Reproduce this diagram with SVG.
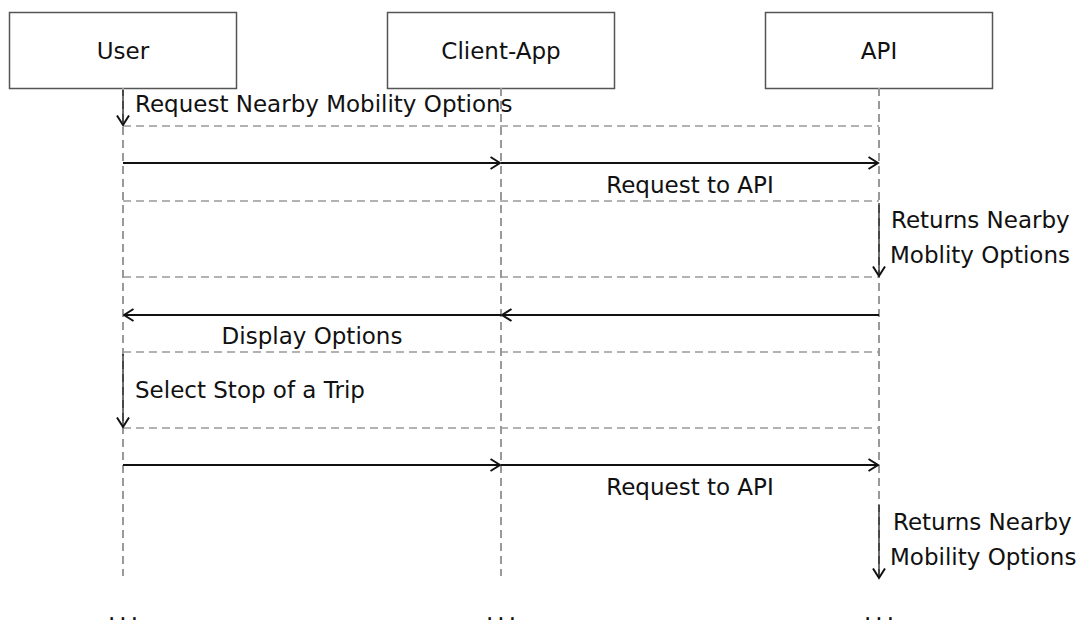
<svg xmlns="http://www.w3.org/2000/svg" width="1088" height="623" viewBox="0 0 1088 623">
  <style>
    text { font-family: "DejaVu Sans", "Liberation Sans", sans-serif; font-size: 23px; fill: #111; }
    .box { fill: #fff; stroke: #555; stroke-width: 1.5; }
    .life { stroke: #999; stroke-width: 2; stroke-dasharray: 8 5; fill: none; }
    .sep { stroke: #999; stroke-width: 1.5; stroke-dasharray: 8 5; fill: none; }
    .msg { stroke: #111; stroke-width: 2; fill: none; marker-end: url(#head); }
    .self { stroke: #111; stroke-opacity: 0.6; stroke-width: 2; fill: none; marker-end: url(#head); }
    .dots { letter-spacing: 4px; }
  </style>
  <defs>
    <marker id="head" viewBox="0 0 12 14" refX="10.5" refY="7" markerWidth="12" markerHeight="14" markerUnits="userSpaceOnUse" orient="auto">
      <path d="M1,1 L10.5,7 L1,13" fill="none" stroke="#111" stroke-width="2"/>
    </marker>
  </defs>
  <rect width="1088" height="623" fill="#fff"/>

  <!-- participants -->
  <g id="user">
    <rect class="box" x="9.5" y="12.5" width="227" height="76"/>
    <text x="123" y="51" text-anchor="middle" dominant-baseline="central">User</text>
  </g>
  <g id="client-app">
    <rect class="box" x="387.5" y="12.5" width="227" height="76"/>
    <text x="501" y="51" text-anchor="middle" dominant-baseline="central">Client-App</text>
  </g>
  <g id="api">
    <rect class="box" x="765.5" y="12.5" width="227" height="76"/>
    <text x="879" y="51" text-anchor="middle" dominant-baseline="central">API</text>
  </g>

  <!-- lifelines -->
  <g id="lifelines">
    <line class="life" x1="123" y1="88" x2="123" y2="576"/>
    <line class="life" x1="501" y1="88" x2="501" y2="576"/>
    <line class="life" x1="879" y1="88" x2="879" y2="576"/>
  </g>

  <!-- step separators -->
  <g id="separators">
    <line class="sep" x1="123" y1="126" x2="879" y2="126"/>
    <line class="sep" x1="123" y1="201" x2="879" y2="201"/>
    <line class="sep" x1="123" y1="277" x2="879" y2="277"/>
    <line class="sep" x1="123" y1="352" x2="879" y2="352"/>
    <line class="sep" x1="123" y1="428" x2="879" y2="428"/>
  </g>

  <!-- messages -->
  <g id="connectors">
    <line class="self" x1="123" y1="90" x2="123" y2="125"/>
    <line class="msg" x1="123" y1="163" x2="500" y2="163"/>
    <line class="msg" x1="501" y1="163" x2="878" y2="163"/>
    <line class="self" x1="879" y1="203" x2="879" y2="276"/>
    <line class="msg" x1="879" y1="315" x2="502" y2="315"/>
    <line class="msg" x1="501" y1="315" x2="124" y2="315"/>
    <line class="self" x1="123" y1="354" x2="123" y2="427"/>
    <line class="msg" x1="123" y1="465" x2="500" y2="465"/>
    <line class="msg" x1="501" y1="465" x2="878" y2="465"/>
    <line class="self" x1="879" y1="505" x2="879" y2="578"/>
  </g>

  <!-- message labels -->
  <g id="labels">
    <text x="135" y="104" dominant-baseline="central">Request Nearby Mobility Options</text>
    <text x="690" y="185" text-anchor="middle" dominant-baseline="central">Request to API</text>
    <text x="891" y="220" dominant-baseline="central">Returns Nearby</text>
    <text x="890" y="255" dominant-baseline="central">Moblity Options</text>
    <text x="312" y="336" text-anchor="middle" dominant-baseline="central">Display Options</text>
    <text x="135" y="390" dominant-baseline="central">Select Stop of a Trip</text>
    <text x="690" y="487" text-anchor="middle" dominant-baseline="central">Request to API</text>
    <text x="893" y="522" dominant-baseline="central">Returns Nearby</text>
    <text x="890" y="557" dominant-baseline="central">Mobility Options</text>
  </g>

  <!-- continuation marks -->
  <g id="continuation">
    <text class="dots" x="125" y="620" text-anchor="middle">...</text>
    <text class="dots" x="503" y="620" text-anchor="middle">...</text>
    <text class="dots" x="881" y="620" text-anchor="middle">...</text>
  </g>
</svg>
